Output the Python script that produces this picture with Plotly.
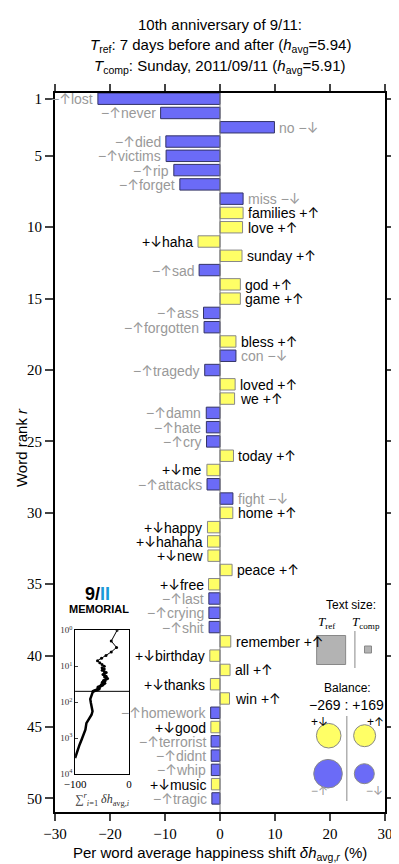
import numpy as np
import plotly.graph_objs as go

# word shift data, rank 1..50
words = ["lost", "never", "no", "died", "victims", "rip", "forget", "miss", "families", "love",
         "haha", "sunday", "sad", "god", "game", "ass", "forgotten", "bless", "con", "tragedy",
         "loved", "we", "damn", "hate", "cry", "today", "me", "attacks", "fight", "home",
         "happy", "hahaha", "new", "peace", "free", "last", "crying", "shit", "remember", "birthday",
         "all", "thanks", "win", "homework", "good", "terrorist", "didnt", "whip", "music", "tragic"]
shifts = [-22.2, -10.8, 9.9, -9.85, -9.8, -8.4, -7.3, 4.2, 4.2, 4.1,
          -4.0, 4.0, -3.8, 3.7, 3.7, -3.0, -2.9, 2.9, 2.9, -2.78,
          2.75, 2.65, -2.5, -2.48, -2.45, 2.45, -2.38, -2.36, 2.35, 2.33,
          -2.28, -2.27, -2.2, 2.2, -2.08, -2.03, -2.02, -1.98, 1.96, -1.85,
          1.83, -1.75, 1.73, -1.7, -1.66, -1.62, -1.6, -1.58, -1.56, -1.48]
word_type = ["-", "-", "-", "-", "-", "-", "-", "-", "+", "+",
             "+", "+", "-", "+", "+", "-", "-", "+", "-", "-",
             "+", "+", "-", "-", "-", "+", "+", "-", "-", "+",
             "+", "+", "+", "+", "+", "-", "-", "-", "+", "+",
             "+", "+", "+", "-", "+", "-", "-", "-", "+", "-"]
ranks = list(range(1, len(words) + 1))

# cumulative curve beyond rank 50
tail_ranks = [62, 82, 106, 146, 180, 224, 308, 383, 585, 805, 1110, 1530, 2110, 2720, 3590]
tail_cum = [-68.9, -71.9, -70.7, -68.9, -67.7, -69.5, -76, -79, -80.9, -83.8, -88, -91.7, -94.6, -97.7, -100]

x_ticks = [-30, -20, -10, 0, 10, 20, 30]
y_ticks = [1, 5, 10, 15, 20, 25, 30, 35, 40, 45, 50]

BLUE = "#6b6bf7"
YELLOW = "#ffff66"
GRAY = "#999999"

# pixel -> paper helpers (plot area 47..387 x 85..804)
L, R, T, B = 47, 387, 85, 804
W, H = 399, 864


def px(x):
    return (x - L) / (R - L)


def py(y):
    return (B - y) / (B - T)


def arr(a, col):
    return "<span style='font-family:Inter;color:" + col + "'>" + a + "</span>"


blue_idx = [i for i in range(len(words)) if word_type[i] == "-"]
yel_idx = [i for i in range(len(words)) if word_type[i] == "+"]

traces = [
    go.Bar(x=[shifts[i] for i in blue_idx], y=[ranks[i] for i in blue_idx], orientation="h",
           width=0.8, marker=dict(color=BLUE, line=dict(color="#333366", width=1)),
           hoverinfo="skip", showlegend=False),
    go.Bar(x=[shifts[i] for i in yel_idx], y=[ranks[i] for i in yel_idx], orientation="h",
           width=0.8, marker=dict(color=YELLOW, line=dict(color="#888888", width=1)),
           hoverinfo="skip", showlegend=False),
]

cum = np.cumsum(shifts)
traces.append(go.Scatter(x=cum, y=ranks, xaxis="x2", yaxis="y2", mode="lines+markers",
                         line=dict(color="black", width=1), marker=dict(size=3, color="black"),
                         showlegend=False, hoverinfo="skip"))
traces.append(go.Scatter(x=[cum[-1]] + tail_cum, y=[ranks[-1]] + tail_ranks, xaxis="x2", yaxis="y2",
                         mode="lines", line=dict(color="black", width=2.5),
                         showlegend=False, hoverinfo="skip"))

annotations = []
for w, v, t, r in zip(words, shifts, word_type, ranks):
    if t == "+":
        arrow = "↑" if v > 0 else "↓"
        sign = "+"
        col = "black"
    else:
        arrow = "↓" if v > 0 else "↑"
        sign = "−"
        col = GRAY
    if v < 0:
        txt = sign + arr(arrow, col) + w
        annotations.append(dict(x=v, y=r, xref="x", yref="y", text=txt, showarrow=False,
                                xanchor="right", yanchor="middle", xshift=-3,
                                font=dict(family="Liberation Sans", size=14, color=col)))
    else:
        txt = w + " " + sign + arr(arrow, col)
        annotations.append(dict(x=v, y=r, xref="x", yref="y", text=txt, showarrow=False,
                                xanchor="left", yanchor="middle", xshift=3,
                                font=dict(family="Liberation Sans", size=14, color=col)))


def note(x, y, text, size=13, color="black", family="Liberation Sans", angle=0, xa="center"):
    annotations.append(dict(x=px(x), y=py(y), xref="paper", yref="paper", text=text,
                            showarrow=False, xanchor=xa, yanchor="middle", textangle=angle,
                            font=dict(family=family, size=size, color=color)))


# title
note(217, 17, "10th anniversary of 9/11:", size=15)
note(217, 38, "<i>T</i><sub>ref</sub>: 7 days before and after (<i>h</i><sub>avg</sub>=5.94)", size=15)
note(217, 58, "<i>T</i><sub>comp</sub>: Sunday, 2011/09/11 (<i>h</i><sub>avg</sub>=5.91)", size=15)

# axis titles
note(12, 440, "Word rank <i>r</i>", size=15, angle=-90)
note(217, 845, "Per word average happiness shift <i>δh</i><sub>avg,<i>r</i></sub> (%)", size=15)

# logo
note(91, 586, "<b>9/<span style='color:#1b9ad8'>II</span></b>", size=18, family="Liberation Sans")
note(92, 601, "<b>MEMORIAL</b>", size=11)

# inset label
note(96, 791, "∑<sup><i>r</i></sup><sub><i>i</i>=1</sub> <i>δh</i><sub>avg,<i>i</i></sub>", size=12,
     family="Liberation Serif", color="#333333")

# text size legend
note(352, 597, "Text size:", size=12)
note(327, 614, "<i>T</i><sub>ref</sub>", size=13, family="Liberation Serif")
note(367, 614, "<i>T</i><sub>comp</sub>", size=13, family="Liberation Serif")

# balance legend
note(348, 680, "Balance:", size=12)
note(347, 697, "−269 : +169", size=14)
note(320, 713, "+" + arr("↓", "black"), size=12)
note(377, 713, "+" + arr("↑", "black"), size=12)
note(320, 782, "−" + arr("↑", GRAY), size=12, color=GRAY)
note(376, 782, "−" + arr("↓", GRAY), size=12, color=GRAY)

shapes = [
    # zero line
    dict(type="line", xref="x", yref="paper", x0=0, x1=0, y0=0, y1=1, line=dict(color="#777777", width=1)),
    # inset rank-50 line
    dict(type="line", xref="x2 domain", yref="y2", x0=0, x1=1, y0=50, y1=50, line=dict(color="black", width=1)),
]


def glyph(kind, cx, cy, r, fill, edge):
    shapes.append(dict(type=kind, xref="paper", yref="paper", xsizemode="pixel", ysizemode="pixel",
                       xanchor=px(cx), yanchor=py(cy), x0=-r, x1=r, y0=-r, y1=r,
                       fillcolor=fill, line=dict(color=edge, width=1)))


glyph("rect", 331.5, 642, 14.5, "#b3b3b3", "#888888")
glyph("rect", 369.5, 641.5, 3.5, "#b3b3b3", "#888888")
glyph("circle", 329, 727.7, 12.3, YELLOW, "#888888")
glyph("circle", 366, 727.7, 11, YELLOW, "#888888")
glyph("circle", 328.3, 765.7, 14.3, BLUE, "#888888")
glyph("circle", 365.7, 765.7, 10, BLUE, "#888888")
for xx, y0, y1 in [(356, 623, 660), (347.7, 708, 793)]:
    shapes.append(dict(type="line", xref="paper", yref="paper", x0=px(xx), x1=px(xx),
                       y0=py(y0), y1=py(y1), line=dict(color="#888888", width=1)))

layout = go.Layout(
    width=W, height=H,
    margin=dict(l=L, r=W - R, t=T, b=H - B),
    paper_bgcolor="white", plot_bgcolor="white",
    barmode="overlay",
    xaxis=dict(range=[-30, 30], tickvals=x_ticks, ticks="outside", ticklen=7, tickwidth=2,
               showline=True, linewidth=2, linecolor="black", mirror="ticks", showgrid=False,
               zeroline=False, tickfont=dict(family="Liberation Serif", size=15, color="black")),
    yaxis=dict(range=[50.95, 0.6], tickvals=y_ticks, ticks="outside", ticklen=8, tickwidth=2,
               showline=True, linewidth=2, linecolor="black", mirror="ticks", showgrid=False,
               zeroline=False, tickfont=dict(family="Liberation Serif", size=15, color="black")),
    xaxis2=dict(domain=[px(67.7), px(123.3)], anchor="y2", range=[-100, 0], tickvals=[-100, 0],
                ticks="inside", ticklen=3, showline=True, linewidth=1, linecolor="black",
                mirror=True, showgrid=False, zeroline=False,
                tickfont=dict(family="Liberation Serif", size=11, color="black")),
    yaxis2=dict(domain=[py(766), py(622.3)], anchor="x2", type="log", range=[4, 0],
                tickvals=[1, 10, 100, 1000, 10000],
                ticktext=["10<sup>0</sup>", "10<sup>1</sup>", "10<sup>2</sup>", "10<sup>3</sup>", "10<sup>4</sup>"],
                ticks="inside", ticklen=3, showline=True, linewidth=1, linecolor="black",
                mirror=True, showgrid=False, zeroline=False,
                tickfont=dict(family="Liberation Serif", size=9, color="#333333")),
    annotations=annotations,
    shapes=shapes,
)

fig = go.Figure(data=traces, layout=layout)
fig.write_html("out.html")
